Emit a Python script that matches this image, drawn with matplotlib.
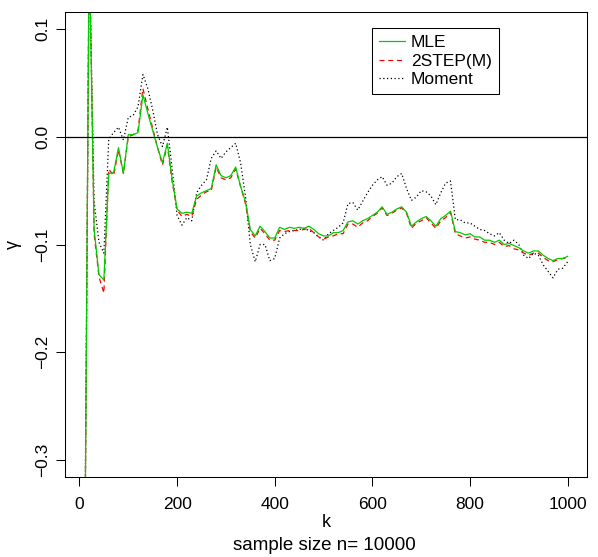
import numpy as np
import matplotlib
matplotlib.use('Agg')
import matplotlib.pyplot as plt

k = np.arange(10, 1001, 10)

mle = [-0.46, 0.18, -0.086, -0.128, -0.133, -0.034, -0.033, -0.010, -0.034, 0.002,
       0.002, 0.004, 0.039, 0.022, 0.006, -0.010, -0.024, -0.006, -0.040, -0.067,
       -0.071, -0.070, -0.071, -0.055, -0.052, -0.050, -0.048, -0.026, -0.036, -0.038,
       -0.036, -0.028, -0.046, -0.060, -0.086, -0.092, -0.083, -0.088, -0.094, -0.094,
       -0.084, -0.086, -0.084, -0.085, -0.084, -0.085, -0.083, -0.086, -0.090, -0.092,
       -0.092, -0.089, -0.089, -0.087, -0.079, -0.078, -0.081, -0.078, -0.076, -0.073,
       -0.070, -0.065, -0.072, -0.070, -0.067, -0.065, -0.070, -0.083, -0.079, -0.076,
       -0.074, -0.078, -0.083, -0.076, -0.073, -0.069, -0.088, -0.089, -0.091, -0.090,
       -0.093, -0.093, -0.096, -0.096, -0.098, -0.096, -0.100, -0.099, -0.101, -0.103,
       -0.106, -0.108, -0.106, -0.106, -0.110, -0.113, -0.115, -0.113, -0.113, -0.111]

twostep = [-0.47, 0.19, -0.090, -0.130, -0.145, -0.030, -0.036, -0.012, -0.034, 0.000,
           0.002, 0.006, 0.045, 0.026, 0.008, -0.010, -0.026, -0.008, -0.042, -0.068,
           -0.074, -0.072, -0.074, -0.058, -0.054, -0.051, -0.050, -0.028, -0.038, -0.040,
           -0.038, -0.030, -0.046, -0.062, -0.088, -0.094, -0.085, -0.090, -0.096, -0.096,
           -0.087, -0.088, -0.087, -0.087, -0.087, -0.086, -0.085, -0.089, -0.093, -0.095,
           -0.093, -0.092, -0.090, -0.090, -0.081, -0.081, -0.084, -0.080, -0.078, -0.074,
           -0.071, -0.066, -0.073, -0.071, -0.068, -0.066, -0.071, -0.085, -0.080, -0.078,
           -0.075, -0.080, -0.085, -0.078, -0.075, -0.070, -0.090, -0.092, -0.094, -0.093,
           -0.095, -0.096, -0.098, -0.098, -0.100, -0.098, -0.102, -0.101, -0.104, -0.105,
           -0.108, -0.110, -0.108, -0.108, -0.112, -0.115, -0.116, -0.114, -0.113, -0.112]

moment = [-0.45, 0.17, -0.060, -0.098, -0.108, -0.002, 0.004, 0.009, -0.003, 0.018,
          0.020, 0.028, 0.058, 0.045, 0.025, 0.002, -0.009, 0.009, -0.030, -0.073,
          -0.082, -0.075, -0.078, -0.052, -0.045, -0.040, -0.020, -0.013, -0.020, -0.014,
          -0.010, -0.006, -0.024, -0.055, -0.100, -0.116, -0.100, -0.100, -0.115, -0.113,
          -0.094, -0.090, -0.088, -0.087, -0.086, -0.085, -0.087, -0.089, -0.093, -0.096,
          -0.090, -0.087, -0.084, -0.080, -0.062, -0.061, -0.068, -0.060, -0.052, -0.045,
          -0.040, -0.037, -0.045, -0.043, -0.037, -0.034, -0.048, -0.059, -0.056, -0.050,
          -0.051, -0.055, -0.063, -0.052, -0.043, -0.041, -0.077, -0.077, -0.080, -0.080,
          -0.083, -0.086, -0.087, -0.090, -0.092, -0.089, -0.096, -0.099, -0.096, -0.100,
          -0.110, -0.113, -0.108, -0.110, -0.119, -0.125, -0.131, -0.123, -0.122, -0.116]

xticks = [0, 200, 400, 600, 800, 1000]
yticks = [-0.3, -0.2, -0.1, 0.0, 0.1]

plt.rcParams['font.family'] = ['Liberation Sans', 'DejaVu Sans']

fig = plt.figure(figsize=(5.98, 5.57), dpi=100)
ax = fig.add_axes([65 / 598, 80 / 557, 522 / 598, 465 / 557])

ax.plot(k, moment, color='black', ls=(0, (1, 2)), lw=0.9, label='Moment')
ax.plot(k, twostep, color='red', ls=(0, (4, 3)), lw=0.9, label='2STEP(M)')
ax.plot(k, mle, color='#00cc00', ls='-', lw=0.9, label='MLE')
ax.axhline(0, color='black', lw=0.9)

ax.set_xlim(-29.6, 1039.6)
ax.set_ylim(-0.316, 0.116)
ax.set_xticks(xticks)
ax.set_xticklabels([str(t) for t in xticks])
ax.set_yticks(yticks)
ax.set_yticklabels(['\u22120.3', '\u22120.2', '\u22120.1', '0.0', '0.1'], rotation=90, va='center')
ax.tick_params(direction='out', length=6.5, width=0.75, labelsize=12.5)
ax.tick_params(axis='x', pad=8)
ax.tick_params(axis='y', pad=4)
for s in ax.spines.values():
    s.set_linewidth(0.75)

ax.set_xlabel('k', fontsize=13, labelpad=1)
ax.set_ylabel('\u03b3', fontsize=13, labelpad=10)
fig.text(324 / 598, 1 - 546 / 557, 'sample size n= 10000', ha='center', va='center', fontsize=13.5)

h, l = ax.get_legend_handles_labels()
leg = ax.legend(h[::-1], l[::-1], loc='upper left', bbox_to_anchor=(0.588, 0.9656),
                borderaxespad=0, fontsize=12.5, handlelength=1.5, labelspacing=0.2,
                handletextpad=0.35, fancybox=False, edgecolor='black', framealpha=1,
                borderpad=0.4)
leg.get_frame().set_linewidth(0.75)

fig.savefig('out.png', dpi=100)
